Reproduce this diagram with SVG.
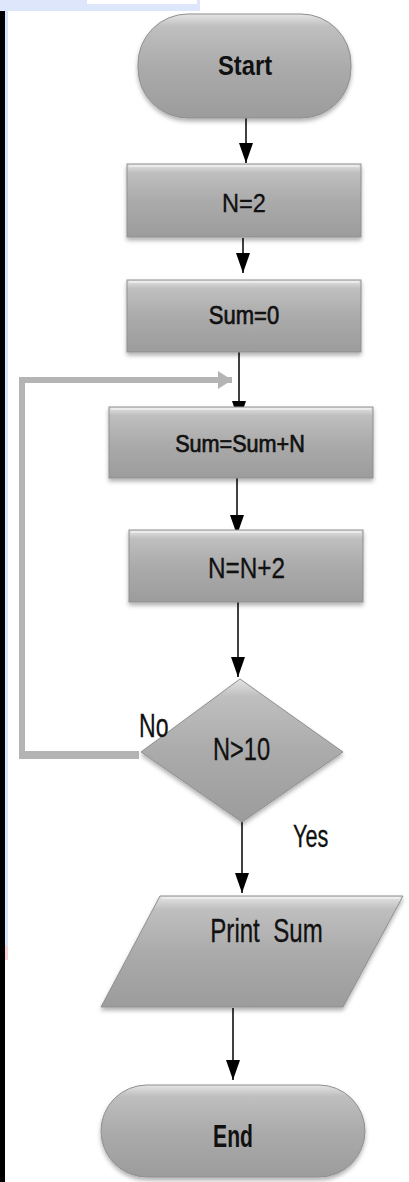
<svg xmlns="http://www.w3.org/2000/svg" width="409" height="1182" viewBox="0 0 409 1182">
<style>
.shape{fill:url(#g);stroke:#8f8f8f;stroke-width:1;filter:url(#sh)}
.lbl{font-family:"Liberation Sans",Arial,sans-serif;fill:#111;text-anchor:middle;stroke:#111;stroke-width:0.3}
.st{text-anchor:start}
.b{font-weight:bold;stroke-width:0}
.sb{stroke-width:0.7}
.conn{stroke:#000;stroke-width:1.5;fill:none;marker-end:url(#ah)}
.fb{stroke:#b4b4b4;fill:none;stroke-linejoin:miter}
.hl{fill:none;stroke:#f2f2f2;stroke-width:2;opacity:0.7}
</style>
<defs>
<linearGradient id="g" x1="0" y1="0" x2="0" y2="1">
<stop offset="0" stop-color="#e4e4e4"/>
<stop offset="0.12" stop-color="#bfbfbf"/>
<stop offset="0.5" stop-color="#ababab"/>
<stop offset="1" stop-color="#9c9c9c"/>
</linearGradient>
<filter id="sh" x="-10%" y="-10%" width="120%" height="130%">
<feDropShadow dx="0" dy="3" stdDeviation="2" flood-color="#000" flood-opacity="0.3"/>
</filter>
<marker id="ah" markerUnits="userSpaceOnUse" markerWidth="20" markerHeight="14" refX="20" refY="7" orient="auto">
<path d="M0,0 L20,7 L0,14 z" fill="#000"/>
</marker>
<marker id="gh" markerUnits="userSpaceOnUse" markerWidth="14" markerHeight="18" refX="14" refY="9" orient="auto">
<path d="M0,0 L14,9 L0,18 z" fill="#b4b4b4"/>
</marker>
</defs>
<rect width="409" height="1182" fill="#fff"/>
<g id="background">
<rect x="0" y="0" width="200" height="11" fill="#dde6fb"/>
<rect x="87" y="0" width="110" height="4" fill="#fff"/>
<rect x="0" y="11" width="5" height="1171" fill="#000"/>
<rect x="5" y="11" width="3" height="935" fill="#d8e3fc"/>
<rect x="5" y="946" width="3" height="14" fill="#f8d0d8"/>
</g>
<g id="connectors">
<line class="conn" x1="246" y1="118" x2="246" y2="163"/>
<line class="conn" x1="243" y1="238" x2="243" y2="273"/>
<line class="conn" x1="239" y1="352" x2="239" y2="421"/>
<line class="conn" x1="237" y1="478" x2="237" y2="535"/>
<line class="conn" x1="238" y1="602" x2="238" y2="677"/>
<line class="conn" x1="242" y1="822" x2="242" y2="893"/>
<line class="conn" x1="233" y1="1008" x2="233" y2="1080"/>
<path class="fb" stroke-width="6" d="M22,755 L22,380 L232,380" marker-end="url(#gh)"/>
<line class="fb" stroke-width="8" x1="19" y1="755" x2="139" y2="755"/>
</g>
<g id="start">
<rect class="shape" x="138" y="14" width="213" height="104" rx="50" ry="50"/>
<text class="lbl b" font-size="28" transform="translate(245,75) scale(0.85,1)">Start</text>
</g>
<g id="n2">
<rect class="shape" x="127" y="164" width="234" height="73"/>
<path class="hl" d="M129,166 H359"/>
<text class="lbl" font-size="26.5" transform="translate(244,212) scale(0.89,1)">N=2</text>
</g>
<g id="sum0">
<rect class="shape" x="127" y="280" width="234" height="72"/>
<path class="hl" d="M129,282 H359"/>
<text class="lbl sb" font-size="26.5" transform="translate(244,324) scale(0.83,1)">Sum=0</text>
</g>
<g id="sumadd">
<rect class="shape" x="109" y="407" width="264" height="71"/>
<path class="hl" d="M111,409 H371"/>
<text class="lbl sb" font-size="24" transform="translate(240,452) scale(0.9,1)">Sum=Sum+N</text>
</g>
<g id="nadd">
<rect class="shape" x="129" y="530" width="234" height="72"/>
<path class="hl" d="M131,532 H361"/>
<text class="lbl" font-size="29" transform="translate(246.5,578) scale(0.84,1)">N=N+2</text>
</g>
<g id="decision">
<polygon class="shape" points="240,679 343,752 242,822 141,752"/>
<text class="lbl" font-size="32" transform="translate(241.5,760) scale(0.74,1)">N&gt;10</text>
</g>
<text class="lbl st" font-size="33" transform="translate(139,737) scale(0.7,1)">No</text>
<text class="lbl st" font-size="31" transform="translate(293,847) scale(0.7,1)">Yes</text>
<g id="print">
<polygon class="shape" points="160,896 403,896 343,1007 101,1007"/>
<path class="hl" d="M162,898 H400"/>
<text class="lbl" font-size="33" xml:space="preserve" transform="translate(266.5,942) scale(0.73,1)">Print  Sum</text>
</g>
<g id="end">
<rect class="shape" x="101" y="1085" width="264" height="92" rx="46" ry="46"/>
<text class="lbl b" font-size="32" transform="translate(233,1147) scale(0.66,1)">End</text>
</g>
</svg>
